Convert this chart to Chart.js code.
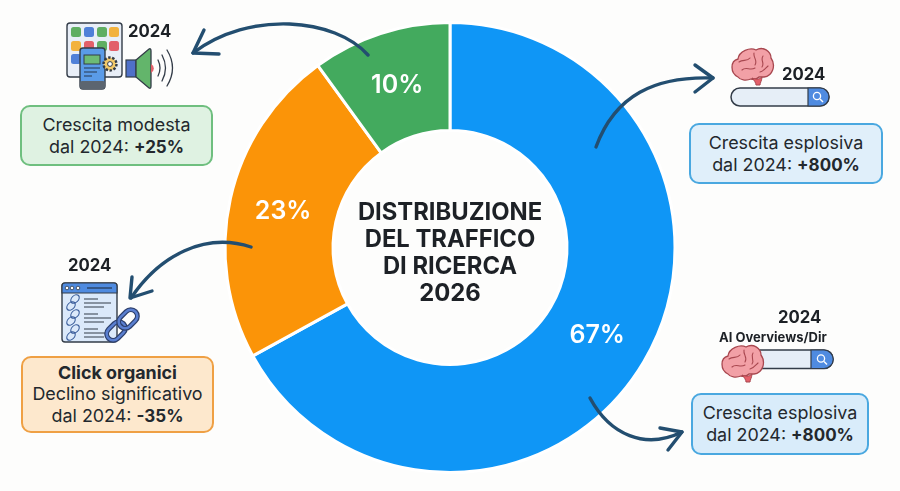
<!DOCTYPE html>
<html lang="it">
<head>
<meta charset="utf-8">
<title>Distribuzione del traffico di ricerca 2026</title>
<script src="https://cdn.jsdelivr.net/npm/chart.js@4"></script>
<style>
    html, body { margin: 0; padding: 0; background: #fdfdfc; }
    #quadro { position: relative; width: 900px; height: 491px; overflow: hidden; font-family: Inter, "Noto Sans", sans-serif; color: #23282d; }
    #grafico { position: absolute; left: 0; top: 0; }
    #disegni { position: absolute; left: 0; top: 0; }
    .box { position: absolute; box-sizing: border-box; border: 2.5px solid; border-radius: 10px; display: flex; flex-direction: column; justify-content: center; text-align: center; font-size: 17.9px; line-height: 22px; white-space: nowrap; }
    .box b { font-size: 17px; }
    .box .nome { font-size: 17.9px; }
    .verde { left: 20px; top: 105px; width: 193px; height: 61px; background: #dff2e2; border-color: #6fbf7f; }
    .arancio { left: 21px; top: 356px; width: 193px; height: 77px; background: #fde8cd; border-color: #efa044; line-height: 21.5px; }
    .blu1 { left: 689px; top: 123px; width: 194px; height: 61px; background: #e0effa; border-color: #4aa8e0; }
    .blu2 { left: 691px; top: 393px; width: 178px; height: 62px; background: #d9ecfa; border-color: #4aa8e0; }
    .anno { position: absolute; font-weight: 700; font-size: 16.7px; color: #1d2126; }
    .ai { position: absolute; font-weight: 700; font-size: 13px; color: #1d2126; left: 719px; top: 329px; }
</style>
</head>
<body>
<div id="quadro">
    <canvas id="grafico" width="900" height="491"></canvas>

    <svg id="disegni" width="900" height="491" viewBox="0 0 900 491" fill="none">
        <defs>
            <g id="cervello">
                <path d="M8 30 C0 26 0 14 8 12 C9 4 20 0 26 3 C33 -1 41 4 41 11 C46 18 43 29 34 30 L29 30 C27 32 25 33 21 32 C16 34 10 33 8 30 Z" fill="#f2a0a6" stroke="#a8474f" stroke-width="1.3"/>
                <path d="M22 31 C27 33 30 32 32 30 C32 33 30 36 30 38 L26 38 C26 36 24 33 22 31 Z" fill="#e4606a" stroke="#a8474f" stroke-width="1"/>
                <path d="M9 15 C13 12 17 15 20 11 M24 6 C23 11 28 13 25 18 M33 9 C30 13 35 16 32 20 M12 23 C16 19 20 24 25 21 M30 25 C34 24 36 21 38 19" stroke="#a8474f" stroke-width="1.1" stroke-linecap="round"/>
            </g>
            <g id="anello">
                <circle cx="0" cy="0" r="6.2" fill="none" stroke="currentColor" stroke-width="1.6"/>
            </g>
        </defs>

        <!-- icona app -->
        <rect x="67" y="23" width="55" height="54" rx="3" fill="#e8eef7" stroke="#333c48" stroke-width="1.4"/>
        <rect x="71" y="27" width="10" height="10" rx="2.5" fill="#5fae62"/>
        <rect x="84" y="27" width="10" height="10" rx="2.5" fill="#4f80d8"/>
        <rect x="97" y="27" width="10" height="10" rx="2.5" fill="#5fae62"/>
        <rect x="109" y="27" width="10" height="10" rx="2.5" fill="#f2b23e"/>
        <rect x="71" y="41" width="10" height="10" rx="2.5" fill="#f2b23e"/>
        <rect x="84" y="41" width="10" height="10" rx="2.5" fill="#e2606a"/>
        <rect x="97" y="41" width="10" height="10" rx="2.5" fill="#5fae62"/>
        <rect x="109" y="41" width="10" height="10" rx="2.5" fill="#e2606a"/>
        <rect x="71" y="54" width="10" height="10" rx="2.5" fill="#4f80d8"/>
        <rect x="80" y="48" width="25" height="41" rx="3" fill="#5a9be8" stroke="#333c48" stroke-width="1.4"/>
        <rect x="80" y="81" width="25" height="8" rx="2" fill="#5c6570"/>
        <rect x="84" y="55" width="16" height="9" fill="#6dbb75" stroke="#333c48"/>
        <path d="M84 68 H100 M84 72 H97 M84 76 H92" stroke="#26384f" stroke-width="1.2"/>
        <circle cx="110" cy="64" r="6.5" fill="#f3c969" stroke="#333c48" stroke-width="2.4" stroke-dasharray="2.4 1.6"/>
        <circle cx="110" cy="64" r="2.4" fill="#fff" stroke="#333c48"/>
        <rect x="126" y="60" width="10" height="17" fill="#4f70c8" stroke="#333c48" stroke-width="1.2"/>
        <path d="M136 60 L149 49 Q151 48 151 51 V86 Q151 89 149 88 L136 77 Z" fill="#63b56b" stroke="#333c48" stroke-width="1.3"/>
        <path d="M151 64 A5 5 0 0 1 151 73 Z" fill="#e2606a"/>
        <path d="M158 60 Q162 68 158 76 M162 55 Q169 68 162 81 M167 50 Q178 68 167 86" stroke="#333c48" stroke-width="1.3" stroke-linecap="round"/>

        <!-- icona link -->
        <rect x="62" y="283" width="55" height="59" rx="3" fill="#dbe9fa" stroke="#333c48" stroke-width="1.4"/>
        <path d="M62 293 V286 Q62 283 65 283 H114 Q117 283 117 286 V293 Z" fill="#4f8be0" stroke="#333c48" stroke-width="1.2"/>
        <circle cx="67" cy="288" r="1.8" fill="#fff" stroke="#333c48" stroke-width=".8"/>
        <circle cx="72" cy="288" r="1.8" fill="#fff" stroke="#333c48" stroke-width=".8"/>
        <circle cx="78" cy="288" r="1.8" fill="#fff" stroke="#333c48" stroke-width=".8"/>
        <path d="M87 288 H112" stroke="#26384f" stroke-width="1.2"/>
        <path d="M84 299 H98 M84 303 H111 M84 307 H104 M84 314 H98 M84 318 H111 M84 322 H104 M84 329 H98 M84 333 H106 M84 337 H104" stroke="#333c48" stroke-width="1.2"/>
        <g stroke="#3c5f9c" color="#3c5f9c">
            <use href="#anello" transform="translate(75 299) rotate(-45) scale(.8 .55)"/>
            <use href="#anello" transform="translate(71 306) rotate(-45) scale(.8 .55)"/>
            <use href="#anello" transform="translate(75 314) rotate(-45) scale(.8 .55)"/>
            <use href="#anello" transform="translate(71 321) rotate(-45) scale(.8 .55)"/>
            <use href="#anello" transform="translate(75 329) rotate(-45) scale(.8 .55)"/>
            <use href="#anello" transform="translate(71 336) rotate(-45) scale(.8 .55)"/>
        </g>
        <g transform="translate(122 325) rotate(-45)">
            <rect x="-19" y="-6.5" width="21" height="13" rx="6.5" fill="none" stroke="#2d3f6b" stroke-width="5"/>
            <rect x="-19" y="-6.5" width="21" height="13" rx="6.5" fill="none" stroke="#5a7fd0" stroke-width="2.5"/>
            <rect x="-2" y="-6.5" width="21" height="13" rx="6.5" fill="none" stroke="#2d3f6b" stroke-width="5"/>
            <rect x="-2" y="-6.5" width="21" height="13" rx="6.5" fill="none" stroke="#5a7fd0" stroke-width="2.5"/>
        </g>

        <!-- barra ricerca in alto -->
        <rect x="731" y="88" width="98" height="18" rx="9" fill="#e6eef7" stroke="#333c48" stroke-width="1.5"/>
        <path d="M808 88 H820 A9 9 0 0 1 820 106 H808 Z" fill="#4f8be0" stroke="#333c48" stroke-width="1.2"/>
        <circle cx="817" cy="96" r="3.6" stroke="#fff" stroke-width="1.3"/>
        <path d="M820 99 L823 102" stroke="#fff" stroke-width="1.4"/>
        <use href="#cervello" x="730" y="47"/>

        <!-- barra ricerca in basso -->
        <rect x="745" y="350" width="88" height="18.5" rx="9" fill="#e6eef7" stroke="#333c48" stroke-width="1.5"/>
        <path d="M811 350 H824 A9 9 0 0 1 824 368.500 H811 Z" fill="#4f8be0" stroke="#333c48" stroke-width="1.2"/>
        <circle cx="821" cy="358.500" r="3.6" stroke="#fff" stroke-width="1.3"/>
        <path d="M824 361.500 L827 364.500" stroke="#fff" stroke-width="1.4"/>
        <use href="#cervello" x="720" y="344"/>

        <!-- frecce -->
        <g stroke="#234e70" stroke-width="3.4" stroke-linecap="round" stroke-linejoin="round">
            <path d="M368 55 C335 18 250 10 193 53"/>
            <path d="M204 30 L193 53 L219 54"/>
            <path d="M251 247 C205 232 160 255 131 298"/>
            <path d="M132 277 L130 298 L152 291"/>
            <path d="M596 147 C615 95 655 76 713 78"/>
            <path d="M695 65 L713 78 L695 92"/>
            <path d="M590 398 C610 435 645 450 682 432"/>
            <path d="M660 428 L682 432 L668 450"/>
        </g>
    </svg>

    <div class="anno" style="left:128px; top:21px;">2024</div>
    <div class="anno" style="left:68px; top:255px;">2024</div>
    <div class="anno" style="left:782px; top:64px;">2024</div>
    <div class="anno" style="left:778px; top:307px;">2024</div>
    <div class="ai">AI Overviews/Dir</div>

    <div class="box verde"><div>Crescita modesta</div><div>dal 2024: <b>+25%</b></div></div>
    <div class="box arancio"><div><b class="nome">Click organici</b></div><div>Declino significativo</div><div>dal 2024: <b>-35%</b></div></div>
    <div class="box blu1"><div>Crescita esplosiva</div><div>dal 2024: <b>+800%</b></div></div>
    <div class="box blu2"><div>Crescita esplosiva</div><div>dal 2024: <b>+800%</b></div></div>
</div>

<script>
const categorie = ['AI Overviews/Dir', 'Click organici', 'App e voce'];
const valori = [67, 23, 10];
const colori = ['#0f96f6', '#fb9408', '#43aa5e'];
const titolo = ['DISTRIBUZIONE', 'DEL TRAFFICO', 'DI RICERCA', '2026'];

// percentuali sulle fette e titolo al centro
const etichette = {
    id: 'etichette',
    afterDatasetsDraw(chart) {
        const ctx = chart.ctx;
        const arcs = chart.getDatasetMeta(0).data;

        ctx.save();
        ctx.textAlign = 'center';
        ctx.textBaseline = 'middle';

        ctx.fillStyle = '#ffffff';
        ctx.font = '600 25px Inter, "Noto Sans", sans-serif';
        arcs.forEach((arc, i) => {
            const pos = arc.tooltipPosition();
            ctx.fillText(valori[i] + '%', pos.x, pos.y + 1);
        });

        const centro = arcs[0];
        ctx.fillStyle = '#1d2126';
        ctx.font = '700 23.8px Inter, "Noto Sans", sans-serif';
        titolo.forEach((riga, i) => {
            ctx.fillText(riga, centro.x, centro.y + 6 + (i - 1.5) * 27);
        });
        ctx.restore();
    }
};

new Chart(document.getElementById('grafico'), {
    type: 'doughnut',
    data: {
        labels: categorie,
        datasets: [{
            data: valori,
            backgroundColor: colori,
            borderColor: '#ffffff',
            borderWidth: 3
        }]
    },
    options: {
        responsive: false,
        animation: false,
        cutout: '52%',
        layout: { padding: { top: 21, bottom: 17 } },
        plugins: {
            legend: { display: false },
            tooltip: { enabled: false }
        }
    },
    plugins: [etichette]
});
</script>
</body>
</html>
